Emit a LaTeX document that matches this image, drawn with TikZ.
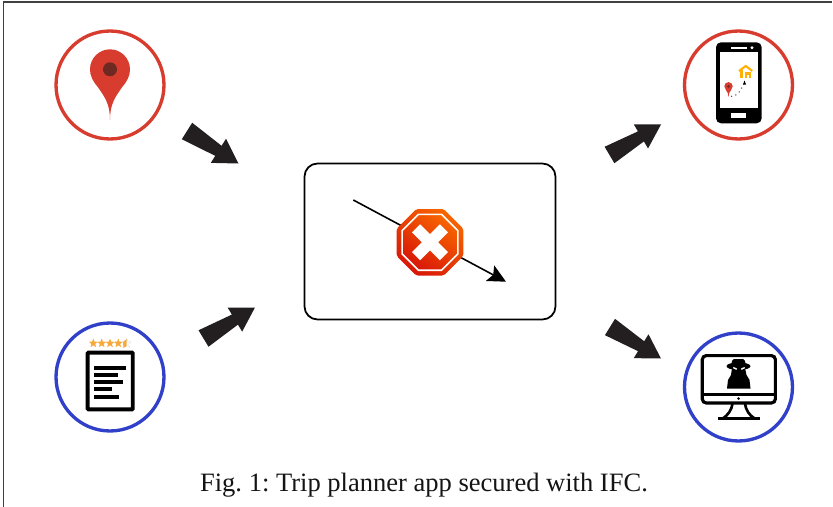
\documentclass[tikz,border=0pt]{standalone}
\usepackage{fontspec}
\setmainfont{Liberation Serif}
\usepackage{tikz}
\usetikzlibrary{arrows.meta}
\usetikzlibrary{calc}
\usetikzlibrary{shapes.geometric}

\definecolor{pinred}{HTML}{D83C2E}
\definecolor{pindark}{HTML}{6E2A22}
\definecolor{ringblue}{HTML}{3040C8}
\definecolor{starorange}{HTML}{F8A93E}
\definecolor{homeorange}{HTML}{FFB000}
\definecolor{arrowblack}{HTML}{231F20}
\definecolor{stoporange}{HTML}{F86400}
\definecolor{stopred}{HTML}{D81808}

\tikzset{
  ring/.style={circle,line width=1.9pt,minimum size=2.16cm,inner sep=0pt},
  stopshape/.style={regular polygon,regular polygon sides=8,inner sep=0pt,top color=stoporange,bottom color=stopred,shading angle=-35},
  stopbar/.style={fill=white,minimum width=0.79cm,minimum height=0.23cm,inner sep=0pt},
  starshape/.style={star,star points=5,star point ratio=2.3,fill=starorange,inner sep=0pt,minimum size=0.19cm},
  pics/mappin/.style={code={
    \fill[pinred] (0,50.7) .. controls (0,35) and (-5,28) .. (-12,18)
      .. controls (-17,12) and (-20,7) .. (-20,0)
      .. controls (-20,-11) and (-11,-20) .. (0,-20)
      .. controls (11,-20) and (20,-11) .. (20,0)
      .. controls (20,7) and (17,12) .. (12,18)
      .. controls (5,28) and (0,35) .. (0,50.7) -- cycle;
    \fill[pindark] (0,0) circle (7);
  }}
}

\newcommand{\blockarrow}[2]{
  \coordinate (headbase) at ($(#1)!0.61!(#2)$);
  \fill[arrowblack] ($(#1)!0.16!90:(#2)$) -- ($(headbase)!0.25!90:(#2)$)
    -- ($(headbase)!0.6!90:(#2)$) -- (#2) -- ($(headbase)!0.6!-90:(#2)$)
    -- ($(headbase)!0.25!-90:(#2)$) -- ($(#1)!0.16!-90:(#2)$) -- cycle;
}

\begin{document}
\frenchspacing
\begin{tikzpicture}[x=0.02cm,y=-0.02cm]
  \useasboundingbox (0,0) rectangle (833,507);
  \draw[line width=0.8pt,black!75] (3.5,510) -- (3.5,2) -- (832,2);

  \node[ring,draw=pinred] (pin) at (110,85) {};
  \node[ring,draw=ringblue] (review) at (110,377) {};
  \node[ring,draw=pinred] (phone) at (738.5,85) {};
  \node[ring,draw=ringblue] (spy) at (738.5,387) {};
  \node[draw,rounded corners=0.26cm,line width=1pt,minimum width=5.02cm,minimum height=3.12cm] (planner) at (430,241.5) {};

  % big arrows
  \coordinate (pinout) at (187,131);
  \coordinate (plannerinA) at (238.5,163.5);
  \coordinate (reviewout) at (203.5,338.5);
  \coordinate (plannerinB) at (255,307.5);
  \coordinate (planneroutA) at (609.5,155);
  \coordinate (phonein) at (661,124.5);
  \coordinate (planneroutB) at (610,327);
  \coordinate (spyin) at (661,358.5);
  \blockarrow{pinout}{plannerinA}
  \blockarrow{reviewout}{plannerinB}
  \blockarrow{planneroutA}{phonein}
  \blockarrow{planneroutB}{spyin}

  % pin
  \pic at (110,69.3) {mappin};

  % review sheet
  \foreach \x in {93.3,101.7,110,118.3} {
    \node[starshape] (star\x) at (\x,343.3) {};
  }
  \node[starshape,fill=none,draw=black!15,line width=0.2pt] (starlast) at (126.7,343.3) {};
  \fill[starorange] (123,342) -- (126.7,339) -- (126.7,346) -- (123.5,348) -- cycle;
  \draw[line width=2.2pt,rounded corners=0.5pt] (87.6,352.6) rectangle (132.8,409.4);
  \foreach \y/\x in {368.3/126,375.3/118.3,382.3/123,389.3/111.7,396.7/118.7} {
    \fill (94.3,\y-2) rectangle (\x,\y+2);
  }

  % phone
  \fill[rounded corners=0.1cm] (716,42.3) rectangle (761.7,123.3);
  \fill[white] (720,52.3) rectangle (757.7,108.3);
  \fill[white] (731,46.8) rectangle (746.7,48.8);
  \fill[white] (752,47.7) circle (1.6);
  \fill[white] (731.3,113) rectangle (746.3,117.7);
  \pic[scale=0.21] at (728.5,86.3) {mappin};
  \draw[homeorange,line width=1.2pt] (739,71) -- (745.7,66) -- (752.3,71);
  \draw[homeorange,line width=1.2pt] (741.5,69.5) -- (741.5,78.3);
  \draw[homeorange,line width=1.2pt] (745.7,78.3) -- (745.7,73.5) -- (750.3,73.5) -- (750.3,78.3);
  \draw[line width=0.6pt,black!70,dotted] (731,96.5) .. controls (738,96) and (741,90) .. (743.5,84);
  \fill (744.5,80.5) -- (746,84.5) -- (743,84.5) -- cycle;

  % monitor with spy
  \draw[line width=1.8pt,rounded corners=0.08cm] (702.3,355.6) rectangle (775.4,403);
  \draw[line width=1.8pt] (702.3,394.3) -- (775.4,394.3);
  \fill (738.5,398.6) circle (1.4);
  \draw[line width=1.5pt] (732.5,404) .. controls (731.5,410) and (728,415) .. (723,418.4);
  \draw[line width=1.5pt] (745,404) .. controls (746,410) and (749,415) .. (754.5,418.4);
  \draw[line width=1.6pt] (717.7,418.4) -- (760,418.4);
  \fill (738.5,366.2) ellipse (12 and 3.8);
  \fill[rounded corners=0.04cm] (731.5,366) -- (732,359) -- (745,359) -- (745.5,366) -- cycle;
  \fill (732,368) -- (745,368) -- (746.5,375) -- (749.5,380) -- (750.5,388.5) -- (727,388.5) -- (728,380) -- (731,375) -- cycle;
  \draw[white,line width=0.8pt] (733.3,367.6) -- (736.7,369.2);
  \draw[white,line width=0.8pt] (744.7,367.6) -- (741.3,369.2);

  % blocked flow
  \coordinate (flowstart) at (353.3,200);
  \coordinate (flowend) at (506,281.7);
  \draw[line width=0.9pt,-{Stealth[length=0.36cm,width=0.35cm,inset=0.07cm]}] (flowstart) -- (flowend);
  \node[stopshape,minimum size=1.44cm,rounded corners=1pt] (stopsign) at (430,242.3) {};
  \node[stopshape,minimum size=1.21cm,draw=white,line width=0.9pt] (stopinner) at (430,242.3) {};
  \node[stopbar,rotate=45] (stopbarA) at (430,242.3) {};
  \node[stopbar,rotate=-45] (stopbarB) at (430,242.3) {};

  \node[font=\fontsize{15.1}{17}\selectfont,anchor=base,text=black!92] (caption) at (424,491.5) {Fig. 1: Trip planner app secured with IFC.};
\end{tikzpicture}
\end{document}
